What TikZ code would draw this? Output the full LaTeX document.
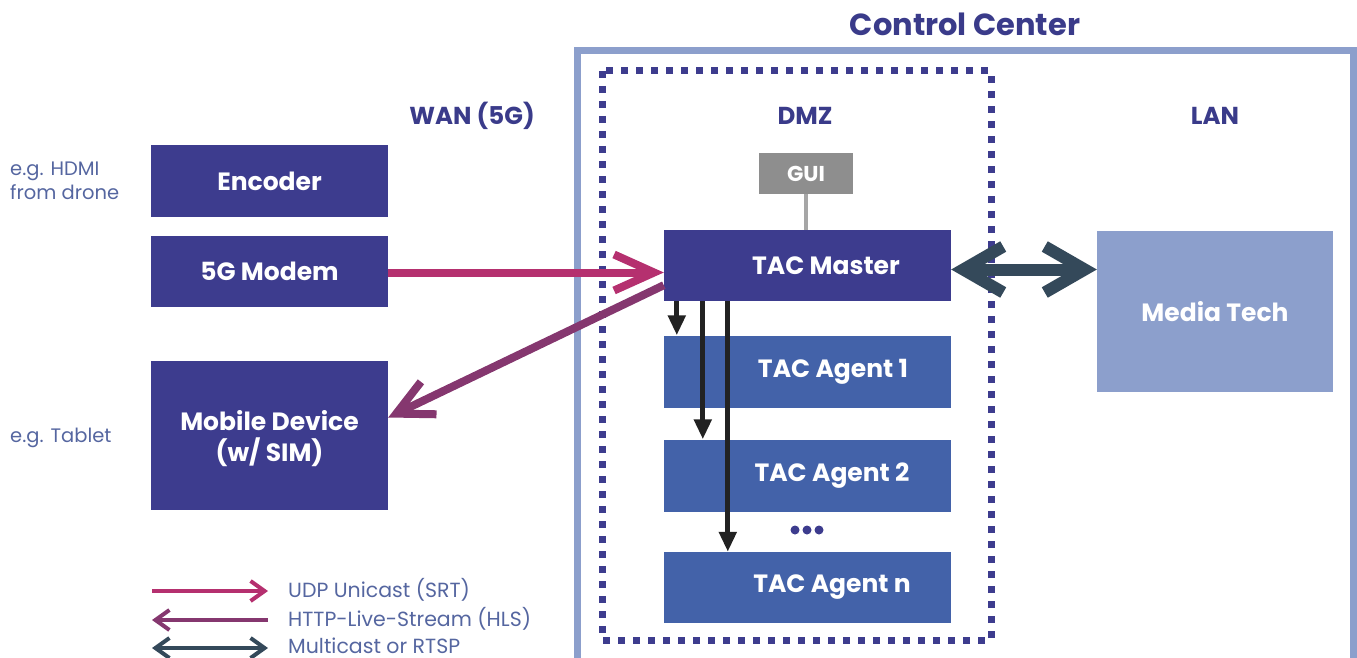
\documentclass[tikz,border=0pt]{standalone}
\usepackage{fontspec}
\setmainfont{Poppins}
\usetikzlibrary{arrows.meta}
\definecolor{dblue}{HTML}{3D3C8E}
\definecolor{ablue}{HTML}{4362A9}
\definecolor{lblue}{HTML}{8C9FCC}
\definecolor{guigray}{HTML}{8E8E8E}
\definecolor{guiline}{HTML}{A6A6A6}
\definecolor{titlec}{HTML}{3A3B8A}
\definecolor{notec}{HTML}{5566A0}
\definecolor{pinkc}{HTML}{B5306F}
\definecolor{hlsc}{HTML}{85376F}
\definecolor{darkc}{HTML}{34495A}
\definecolor{blk}{HTML}{222222}
\tikzset{
  box/.style={fill=#1, draw=none, inner sep=0pt, text=white, font=\fontsize{25}{31}\selectfont\bfseries, align=center},
  lbl/.style={text=white, font=\fontsize{25}{31}\selectfont\bfseries, inner sep=0pt},
  head/.style={text=titlec, font=\fontsize{24.5}{28}\selectfont\bfseries, inner sep=0pt},
  note/.style={text=notec, font=\fontsize{19.5}{23.5}\selectfont, inner sep=0pt, align=left, anchor=west},
  legtext/.style={text=notec, font=\fontsize{20.5}{24}\selectfont, inner sep=0pt, anchor=west},
  srt/.style={draw=pinkc, line width=8pt, -{Straight Barb[length=40pt,width=36pt]}},
  hls/.style={draw=hlsc, line width=8pt, -{Straight Barb[length=36pt,width=36pt]}},
  mc/.style={draw=darkc, line width=12pt, {Straight Barb[length=40pt,width=46pt]}-{Straight Barb[length=40pt,width=46pt]}},
  down/.style={draw=blk, line width=5pt, -{Triangle[length=20pt,width=17pt]}},
}
\begin{document}
\begin{tikzpicture}[x=1pt,y=-1pt]
\useasboundingbox (0,0) rectangle (1357,658);
% control center frame
\draw[lblue, line width=7pt] (577,51) rectangle (1353,661);
\node[head, font=\fontsize{30.5}{33}\selectfont\bfseries] (cc) at (965,24) {Control Center};
% DMZ
\draw[dblue, line width=7pt, dash pattern=on 7pt off 8pt] (602,71) rectangle (991,640);
\node[head] (wan) at (472,116) {WAN (5G)};
\node[head] (dmz) at (805,116) {DMZ};
\node[head] (lan) at (1215,116) {LAN};
% left boxes
\node[box=dblue, minimum width=237pt, minimum height=72pt] (enc) at (269.5,181) {Encoder};
\node[box=dblue, minimum width=237pt, minimum height=71pt] (modem) at (269.5,271.5) {5G Modem};
\node[box=dblue, minimum width=237pt, minimum height=149pt] (mobile) at (269.5,435.5) {};
\node[lbl, align=center] (mobilel) at (269.5,439) {Mobile Device\\(w/ SIM)};
\node[note] (hdmi) at (10,181) {e.g. HDMI\\from drone};
\node[note] (tab) at (10,438) {e.g. Tablet};
% DMZ boxes
\node[box=guigray, minimum width=94pt, minimum height=41pt, font=\fontsize{21.5}{24}\selectfont\bfseries] (gui) at (806,173.5) {GUI};
\node[box=dblue, minimum width=287pt, minimum height=71pt] (master) at (807.5,265.5) {};
\node[lbl] (masterl) at (826,265.5) {TAC Master};
\node[box=ablue, minimum width=287pt, minimum height=72pt] (a1) at (807.5,371.5) {};
\node[lbl] (a1l) at (833,371.5) {TAC Agent 1};
\node[box=ablue, minimum width=287pt, minimum height=72pt] (a2) at (807.5,475.5) {};
\node[lbl] (a2l) at (832,475.5) {TAC Agent 2};
\node[box=ablue, minimum width=287pt, minimum height=71pt] (an) at (807.5,587.5) {};
\node[lbl] (anl) at (832,587.5) {TAC Agent n};
\fill[dblue] (795,530) circle (4.5) (807,530) circle (4.5) (819,530) circle (4.5);
% LAN
\node[box=lblue, minimum width=236pt, minimum height=161pt] (media) at (1215,311.5) {Media Tech};
% connectors
\draw[guiline, line width=4pt] (gui.south) -- (gui.south |- master.north);
\draw[srt] ([yshift=-1pt]modem.east) -- ([yshift=-1pt]modem.east -| master.west);
\draw[hls] ([yshift=16pt]master.south west) -- ([yshift=18pt]mobile.east);
\draw[mc] ([yshift=-4pt]master.east) -- ([yshift=-4pt]master.east -| media.west);
\draw[down] ([xshift=13pt]master.south west) -- ([xshift=13pt]master.south west |- a1.north);
\draw[down] ([xshift=39pt]master.south west) -- ([xshift=39pt]master.south west |- a2.north);
\draw[down] ([xshift=64pt]master.south west) -- ([xshift=64pt]master.south west |- an.north);
% legend
\coordinate (l1a) at (152,591); \coordinate (l1b) at (268,591);
\coordinate (l2a) at (152,620); \coordinate (l2b) at (268,620);
\coordinate (l3a) at (152,648); \coordinate (l3b) at (268,648);
\draw[draw=pinkc, line width=4pt, -{Straight Barb[length=14pt,width=20pt]}] (l1a) -- (l1b);
\draw[draw=hlsc, line width=4pt, {Straight Barb[length=14pt,width=20pt]}-] (l2a) -- (l2b);
\draw[draw=darkc, line width=4pt, {Straight Barb[length=14pt,width=20pt]}-{Straight Barb[length=14pt,width=20pt]}] (l3a) -- (l3b);
\node[legtext] (t1) at (288,590) {UDP Unicast (SRT)};
\node[legtext] (t2) at (288,619) {HTTP-Live-Stream (HLS)};
\node[legtext] (t3) at (288,646) {Multicast or RTSP};
\end{tikzpicture}
\end{document}
